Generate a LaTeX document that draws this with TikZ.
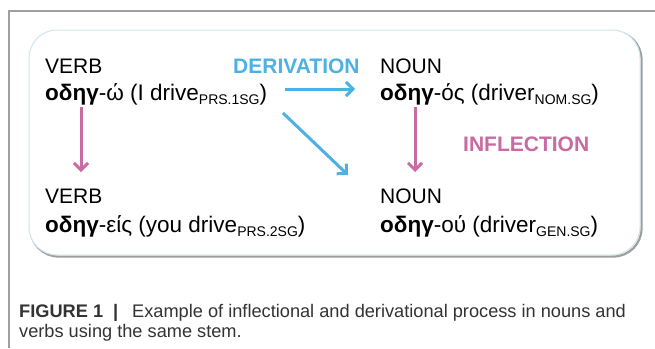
\documentclass[tikz,border=0pt]{standalone}
\usepackage{fontspec}
\setmainfont{Liberation Sans}
\usetikzlibrary{arrows.meta}
\definecolor{derblue}{HTML}{4DB1E3}
\definecolor{infpink}{HTML}{C96BA3}
\definecolor{captxt}{HTML}{333333}
\definecolor{framegray}{HTML}{A0A0A0}
\definecolor{boxedge}{HTML}{CFE6EC}
\newcommand{\sbs}[1]{\raisebox{-4.5pt}{\fontsize{14}{14}\selectfont #1}}
\begin{document}
\begin{tikzpicture}[x=1pt,y=-1pt,
  lbl/.style={anchor=base west,inner sep=0pt,font=\fontsize{21}{25}\selectfont},
  form/.style={anchor=base west,inner sep=0pt,font=\fontsize{22.5}{25}\selectfont},
  proc/.style={anchor=base west,inner sep=0pt,font=\fontsize{21}{25}\selectfont\bfseries},
  captext/.style={anchor=base west,inner sep=0pt,text=captxt,font=\fontsize{18.2}{20}\selectfont},
  derarrow/.style={draw=derblue,line width=3pt,-{Straight Barb[length=7pt,width=14pt,line width=3pt]}},
  infarrow/.style={draw=infpink,line width=3pt,-{Straight Barb[length=7pt,width=14pt,line width=3pt]}}]
\useasboundingbox (0,0) rectangle (655,348);
\fill[white] (0,0) rectangle (655,348);
% outer frame
\draw[framegray,line width=1.3pt] (9,348) -- (9,11) -- (655,11);
% rounded panel with soft shadow
\draw[gray!75,line width=2.2pt,rounded corners=28pt] (30.5,31.5) rectangle (641.5,256.5);
\draw[boxedge,line width=1pt,fill=white,rounded corners=28pt] (29,30) rectangle (640,255);
% word forms
\node[lbl] (v1top) at (45,73) {VERB};
\node[form] (v1) at (45,100) {\textbf{οδηγ}-ώ (I drive\sbs{PRS.1SG})};
\node[lbl] (n1top) at (380,73) {NOUN};
\node[form] (n1) at (380,100) {\textbf{οδηγ}-ός (driver\sbs{NOM.SG})};
\node[lbl] (v2top) at (45,203) {VERB};
\node[form] (v2) at (45,232) {\textbf{οδηγ}-είς (you drive\sbs{PRS.2SG})};
\node[lbl] (n2top) at (380,203) {NOUN};
\node[form] (n2) at (380,232) {\textbf{οδηγ}-ού (driver\sbs{GEN.SG})};
% process labels
\node[proc,text=derblue] (der) at (233,73) {DERIVATION};
\node[proc,text=infpink] (inf) at (463,151) {INFLECTION};
% derivation arrows
\draw[derarrow] ([xshift=240pt,yshift=11pt]v1.base west) -- ([xshift=-25pt,yshift=11pt]n1.base west);
\draw[derarrow] ([xshift=238pt,yshift=-13pt]v1.base west) -- ([xshift=-32pt,yshift=28pt]n2top.base west);
% inflection arrows
\draw[infarrow] ([xshift=36pt,yshift=-7pt]v1.base west) -- ([xshift=36pt,yshift=31pt]v2top.base west);
\draw[infarrow] ([xshift=35pt,yshift=-7pt]n1.base west) -- ([xshift=35pt,yshift=31pt]n2top.base west);
% caption
\node[captext] (cap1) at (19,317) {\textbf{FIGURE 1}\hspace{10pt}\textbf{|}\hspace{14pt}Example of inflectional and derivational process in nouns and};
\node[captext] (cap2) at (19,337) {verbs using the same stem.};
\end{tikzpicture}
\end{document}
